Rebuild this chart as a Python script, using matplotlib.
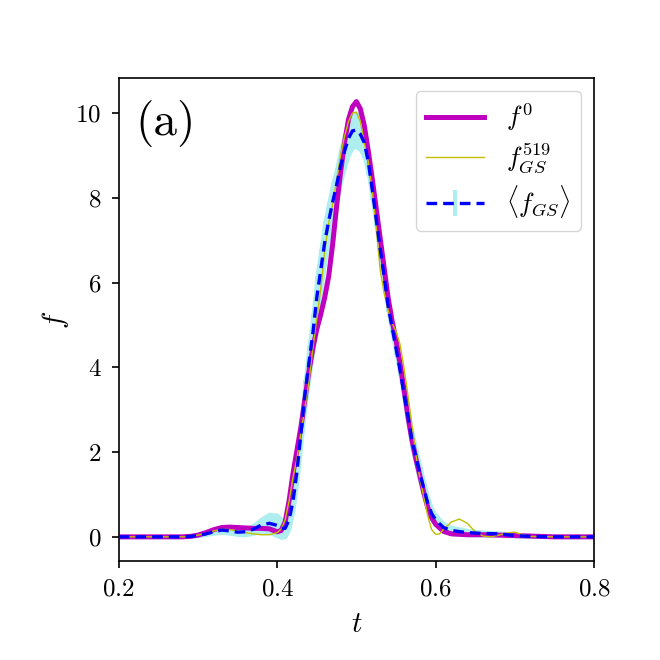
import numpy as np
import matplotlib
matplotlib.use("Agg")
import matplotlib.pyplot as plt

plt.rcParams['font.family'] = 'serif'
plt.rcParams['font.serif'] = ['cmr10']
plt.rcParams['mathtext.fontset'] = 'cm'
plt.rcParams['axes.formatter.use_mathtext'] = True

# f^0 (original signal)
t_f0 = [0.20, 0.28, 0.29, 0.30, 0.31, 0.32, 0.33, 0.34, 0.35, 0.36, 0.37, 0.38,
        0.39, 0.40, 0.405, 0.41, 0.415, 0.42, 0.425, 0.43, 0.435, 0.44, 0.445,
        0.45, 0.455, 0.46, 0.465, 0.47, 0.475, 0.48, 0.485, 0.49, 0.495, 0.50,
        0.505, 0.51, 0.515, 0.52, 0.525, 0.53, 0.535, 0.54, 0.545, 0.55, 0.555,
        0.56, 0.565, 0.57, 0.575, 0.58, 0.585, 0.59, 0.595, 0.60, 0.61, 0.62,
        0.64, 0.66, 0.70, 0.75, 0.80]
f0 = [0.0, 0.0, 0.01, 0.04, 0.10, 0.17, 0.22, 0.23, 0.22, 0.21, 0.20, 0.20,
      0.19, 0.12, 0.15, 0.35, 0.85, 1.5, 2.05, 2.6, 3.25, 3.9, 4.45,
      4.9, 5.25, 5.65, 6.15, 6.9, 7.8, 8.6, 9.3, 9.85, 10.15, 10.27,
      10.1, 9.7, 9.1, 8.45, 7.75, 7.05, 6.35, 5.65, 5.1, 4.65, 4.1,
      3.5, 2.85, 2.3, 1.85, 1.45, 1.05, 0.7, 0.45, 0.3, 0.13, 0.07,
      0.05, 0.05, 0.03, 0.0, 0.0]

# f_GS^519 (single sample)
t_gs = [0.20, 0.28, 0.29, 0.30, 0.31, 0.32, 0.33, 0.34, 0.35, 0.36, 0.37, 0.38,
        0.39, 0.40, 0.405, 0.41, 0.415, 0.42, 0.425, 0.43, 0.435, 0.44, 0.445,
        0.45, 0.455, 0.46, 0.465, 0.47, 0.475, 0.48, 0.485, 0.49, 0.495, 0.50,
        0.505, 0.51, 0.515, 0.52, 0.525, 0.53, 0.535, 0.54, 0.545, 0.55, 0.555,
        0.56, 0.565, 0.57, 0.575, 0.58, 0.585, 0.59, 0.595, 0.60, 0.605, 0.61,
        0.62, 0.63, 0.64, 0.65, 0.66, 0.67, 0.68, 0.69, 0.70, 0.71, 0.72, 0.75,
        0.80]
f_gs = [0.0, 0.0, 0.01, 0.04, 0.09, 0.14, 0.18, 0.17, 0.14, 0.10, 0.07, 0.05,
        0.05, 0.10, 0.18, 0.4, 0.85, 1.4, 1.85, 2.45, 3.05, 3.65, 4.45,
        5.15, 5.85, 6.75, 7.4, 7.85, 8.4, 9.0, 9.45, 9.8, 10.0, 10.02,
        9.8, 9.3, 8.85, 8.2, 7.3, 6.3, 5.75, 5.35, 5.05, 4.85, 4.55,
        4.0, 3.35, 2.65, 1.95, 1.4, 0.95, 0.5, 0.17, 0.06, 0.07, 0.18,
        0.35, 0.42, 0.32, 0.12, 0.02, 0.0, 0.04, 0.09, 0.11, 0.05, 0.01, 0.0,
        0.0]

# <f_GS> mean and spread
t_mean = [0.20, 0.28, 0.29, 0.30, 0.31, 0.32, 0.33, 0.34, 0.35, 0.36, 0.37, 0.38,
          0.39, 0.40, 0.405, 0.41, 0.415, 0.42, 0.425, 0.43, 0.435, 0.44, 0.445,
          0.45, 0.455, 0.46, 0.465, 0.47, 0.475, 0.48, 0.485, 0.49, 0.495, 0.50,
          0.505, 0.51, 0.515, 0.52, 0.525, 0.53, 0.535, 0.54, 0.545, 0.55, 0.555,
          0.56, 0.565, 0.57, 0.575, 0.58, 0.585, 0.59, 0.595, 0.60, 0.61, 0.62,
          0.64, 0.66, 0.68, 0.70, 0.72, 0.75, 0.80]
f_mean = [0.0, 0.0, 0.01, 0.03, 0.07, 0.12, 0.16, 0.14, 0.11, 0.12, 0.18, 0.28,
          0.32, 0.27, 0.2, 0.2, 0.4, 0.85, 1.55, 2.45, 3.35, 4.1, 4.8,
          5.65, 6.3, 6.95, 7.45, 7.9, 8.3, 8.75, 9.1, 9.4, 9.58, 9.6,
          9.5, 9.3, 8.85, 8.2, 7.5, 6.8, 6.15, 5.45, 4.95, 4.45, 3.95,
          3.4, 2.85, 2.3, 1.9, 1.5, 1.15, 0.8, 0.55, 0.4, 0.22, 0.15,
          0.1, 0.08, 0.07, 0.03, 0.01, 0.0, 0.0]
f_err = [0.0, 0.0, 0.0, 0.01, 0.02, 0.04, 0.06, 0.06, 0.06, 0.08, 0.10, 0.15,
         0.22, 0.25, 0.22, 0.2, 0.22, 0.25, 0.28, 0.3, 0.35, 0.4, 0.45,
         0.5, 0.5, 0.5, 0.45, 0.45, 0.4, 0.4, 0.4, 0.4, 0.4, 0.4,
         0.38, 0.35, 0.3, 0.25, 0.2, 0.2, 0.15, 0.15, 0.15, 0.15, 0.15,
         0.15, 0.18, 0.2, 0.2, 0.2, 0.18, 0.15, 0.13, 0.12, 0.1, 0.08,
         0.06, 0.04, 0.03, 0.02, 0.01, 0.0, 0.0]

band_color = 'paleturquoise'

fig = plt.figure(figsize=(6.6, 6.6), dpi=100)
ax = fig.add_axes([0.180, 0.150, 0.720, 0.732])

lo = np.array(f_mean) - np.array(f_err)
hi = np.array(f_mean) + np.array(f_err)
ax.fill_between(t_mean, lo, hi, color=band_color, lw=2.5, edgecolor=band_color, zorder=1)

l0, = ax.plot(t_f0, f0, color='m', lw=3.6, zorder=2, label=r'$f^0$')
l1, = ax.plot(t_gs, f_gs, color='y', lw=1.0, zorder=3, label=r'$f_{GS}^{519}$')
eb = ax.errorbar(t_mean, f_mean, yerr=f_err, color='b', lw=2.4,
                 linestyle=(0, (3.2, 1.8)), ecolor=band_color, elinewidth=3,
                 zorder=4, label=r'$\langle f_{GS} \rangle$')
for c in eb[2]:
    c.set_zorder(1)

ax.set_xlim(0.2, 0.8)
ax.set_ylim(-0.57, 10.83)
ax.set_xticks([0.2, 0.4, 0.6, 0.8])
ax.set_yticks([0, 2, 4, 6, 8, 10])
ax.tick_params(labelsize=18, length=5, width=1.2, pad=7.5)
for s in ax.spines.values():
    s.set_linewidth(1.2)

ax.set_xlabel(r'$t$', fontsize=21, labelpad=8)
ax.set_ylabel(r'$f$', fontsize=21, labelpad=3)
ax.text(0.034, 0.955, '(a)', transform=ax.transAxes, fontsize=34, va='top', ha='left')

ax.legend(handles=[l0, l1, eb], loc='upper right', fontsize=19,
          handlelength=2.2, labelspacing=0.3)

fig.savefig('out.png', dpi=100)
